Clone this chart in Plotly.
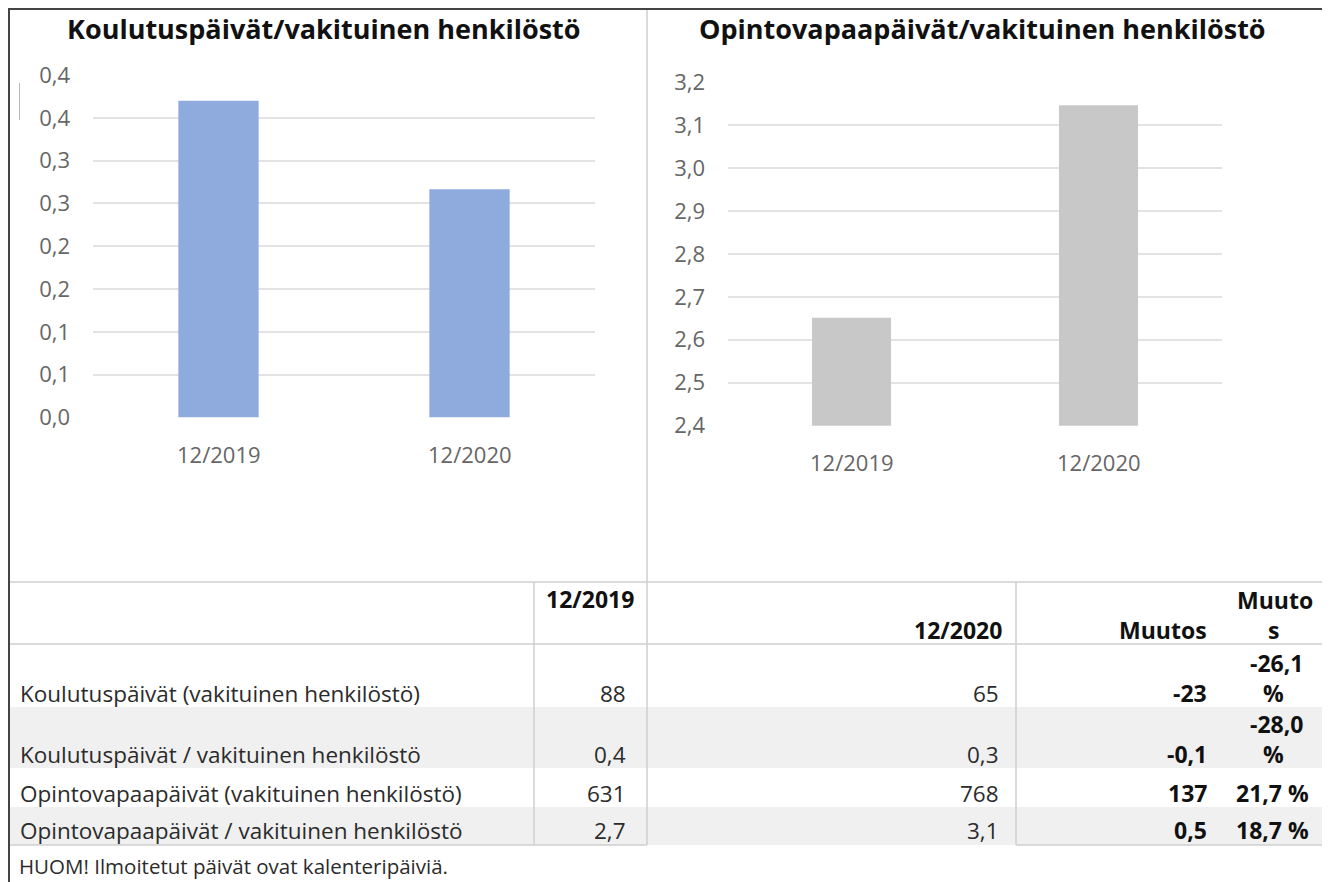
import plotly.graph_objects as go

# page body has an 8px margin; the figure covers the window from (8, 8)
OFF = 8
W, H = 1330 - OFF, 882 - OFF

# ---------------- data ----------------
categories = ["12/2019", "12/2020"]
koulutus_per_staff = [0.370, 0.2665]
opinto_per_staff = [2.651, 3.146]

left_tickvals = [0.00, 0.05, 0.10, 0.15, 0.20, 0.25, 0.30, 0.35, 0.40]
left_ticktext = ["0,0", "0,1", "0,1", "0,2", "0,2", "0,3", "0,3", "0,4", "0,4"]
right_tickvals = [2.4, 2.5, 2.6, 2.7, 2.8, 2.9, 3.0, 3.1, 3.2]
right_ticktext = ["2,4", "2,5", "2,6", "2,7", "2,8", "2,9", "3,0", "3,1", "3,2"]

left_title = "Koulutuspäivät/vakituinen henkilöstö"
right_title = "Opintovapaapäivät/vakituinen henkilöstö"

table_headers = ["12/2019", "12/2020", "Muutos", "Muutos"]
row_labels = [
    "Koulutuspäivät (vakituinen henkilöstö)",
    "Koulutuspäivät / vakituinen henkilöstö",
    "Opintovapaapäivät (vakituinen henkilöstö)",
    "Opintovapaapäivät / vakituinen henkilöstö",
]
col_2019 = ["88", "0,4", "631", "2,7"]
col_2020 = ["65", "0,3", "768", "3,1"]
col_change = ["-23", "-0,1", "137", "0,5"]
col_change_pct = ["-26,1 %", "-28,0 %", "21,7 %", "18,7 %"]
footnote = "HUOM! Ilmoitetut päivät ovat kalenteripäiviä."


# ---------------- layout helpers (window pixels -> paper) ----------------
def px(x):
    return (x - OFF) / W


def py(y):
    return 1 - (y - OFF) / H


FONT = "Open Sans"
TICK_COLOR = "#666666"
TEXT_COLOR = "#2b2b2b"
BOLD_COLOR = "#111111"
LINE_COLOR = "#cfcfcf"
TICK_SIZE = 22

fig = go.Figure()
fig.add_trace(go.Bar(x=categories, y=koulutus_per_staff, marker=dict(color="#8faadc", line=dict(width=0)),
                     xaxis="x", yaxis="y", hoverinfo="skip"))
fig.add_trace(go.Bar(x=categories, y=opinto_per_staff, marker=dict(color="#c8c8c8", line=dict(width=0)),
                     xaxis="x2", yaxis="y2", hoverinfo="skip"))

common_y = dict(gridcolor="#e3e3e3", gridwidth=2, zeroline=False, showline=False, ticks="",
                tickfont=dict(family=FONT, size=TICK_SIZE, color=TICK_COLOR), ticklabelstandoff=22,
                fixedrange=True, automargin=False)
common_x = dict(showticklabels=False, showgrid=False, zeroline=False, showline=False, ticks="",
                fixedrange=True, automargin=False)

fig.update_layout(
    width=W, height=H, autosize=False,
    margin=dict(l=0, r=0, t=0, b=0, pad=0, autoexpand=False),
    paper_bgcolor="white", plot_bgcolor="white", showlegend=False, bargap=0.68,
    xaxis=dict(domain=[px(93), px(595)], anchor="y", **common_x),
    yaxis=dict(domain=[py(417.5), py(75)], range=[0, 0.40], anchor="x",
               tickvals=left_tickvals, ticktext=left_ticktext, **common_y),
    xaxis2=dict(domain=[px(728), px(1222)], anchor="y2", **common_x),
    yaxis2=dict(domain=[py(425.7), py(82)], range=[2.4, 3.2], anchor="x2",
                tickvals=right_tickvals, ticktext=right_ticktext, **common_y),
)

ann = []
shapes = []

# titles
for t, cx in ((left_title, 324), (right_title, 982)):
    ann.append(dict(text="<b>" + t + "</b>", x=px(cx), y=py(29), xref="paper", yref="paper",
                    showarrow=False, xanchor="center", yanchor="middle",
                    font=dict(family=FONT, size=27, color=BOLD_COLOR)))

# category labels under bars
for c in categories:
    ann.append(dict(text=c, x=c, xref="x", y=py(453.5), yref="paper", showarrow=False,
                    xanchor="center", yanchor="middle",
                    font=dict(family=FONT, size=TICK_SIZE, color=TICK_COLOR)))
    ann.append(dict(text=c, x=c, xref="x2", y=py(462), yref="paper", showarrow=False,
                    xanchor="center", yanchor="middle",
                    font=dict(family=FONT, size=TICK_SIZE, color=TICK_COLOR)))


# ---------------- table ----------------
def hline(y, x0, x1, color=LINE_COLOR, w=1.5):
    shapes.append(dict(type="line", xref="paper", yref="paper", x0=px(x0), x1=px(x1), y0=py(y), y1=py(y),
                       line=dict(color=color, width=w)))


def vline(x, y0, y1, color=LINE_COLOR, w=1.5):
    shapes.append(dict(type="line", xref="paper", yref="paper", x0=px(x), x1=px(x), y0=py(y0), y1=py(y1),
                       line=dict(color=color, width=w)))


row_bounds = [644, 707, 768, 807, 845]
for i in (1, 3):
    shapes.append(dict(type="rect", xref="paper", yref="paper", x0=px(10), x1=px(1324),
                       y0=py(row_bounds[i + 1]), y1=py(row_bounds[i]),
                       fillcolor="#f0f0f0", line=dict(width=0), layer="below"))

hline(582, 10, 1324)
hline(644, 10, 1324)
hline(845, 10, 647)
hline(845, 1016, 1324)
vline(534, 582, 845)
vline(647, 9, 845)
vline(1016, 582, 845)

# outer frame
FRAME = "#444444"
vline(9, 8, 882, color=FRAME, w=2)
hline(9, 8, 1330, color=FRAME, w=2)
vline(1325, 8, 882, color=FRAME, w=2)
# small cursor mark in left chart
vline(19.5, 83, 120, color="#bbbbbb", w=1)

REG = 22.5
BOLD = 23


def txt(s, x, y, anchor="right", bold=False, color=TEXT_COLOR, size=REG):
    ann.append(dict(text=("<b>" + s + "</b>") if bold else s, x=px(x), y=py(y), xref="paper", yref="paper",
                    showarrow=False, xanchor=anchor, yanchor="middle",
                    font=dict(family=FONT, size=size, color=color)))


# header
txt(table_headers[0], 636, 599, bold=True, color=BOLD_COLOR, size=BOLD)
txt(table_headers[1], 1004, 630, bold=True, color=BOLD_COLOR, size=BOLD)
txt(table_headers[2], 1209, 630, bold=True, color=BOLD_COLOR, size=BOLD)
txt(table_headers[3][:5], 1275, 600, anchor="center", bold=True, color=BOLD_COLOR, size=BOLD)
txt(table_headers[3][5:], 1273, 630, anchor="center", bold=True, color=BOLD_COLOR, size=BOLD)

row_text_y = [693, 754, 793, 830]
wrap_rows = [True, True, False, False]
for i, lab in enumerate(row_labels):
    y = row_text_y[i]
    txt(lab, 18, y, anchor="left")
    txt(col_2019[i], 628, y)
    txt(col_2020[i], 1001, y)
    txt(col_change[i], 1209, y, bold=True, color=BOLD_COLOR, size=BOLD)
    if wrap_rows[i]:
        num, pct = col_change_pct[i].split(" ")
        txt(num, 1276, y - 30, anchor="center", bold=True, color=BOLD_COLOR, size=BOLD)
        txt(pct, 1273, y, anchor="center", bold=True, color=BOLD_COLOR, size=BOLD)
    else:
        txt(col_change_pct[i], 1272, y, anchor="center", bold=True, color=BOLD_COLOR, size=BOLD)

txt(footnote, 17, 866, anchor="left", size=20.5)

fig.update_layout(annotations=ann, shapes=shapes)
fig.write_html("out.html", config={"displayModeBar": False})
